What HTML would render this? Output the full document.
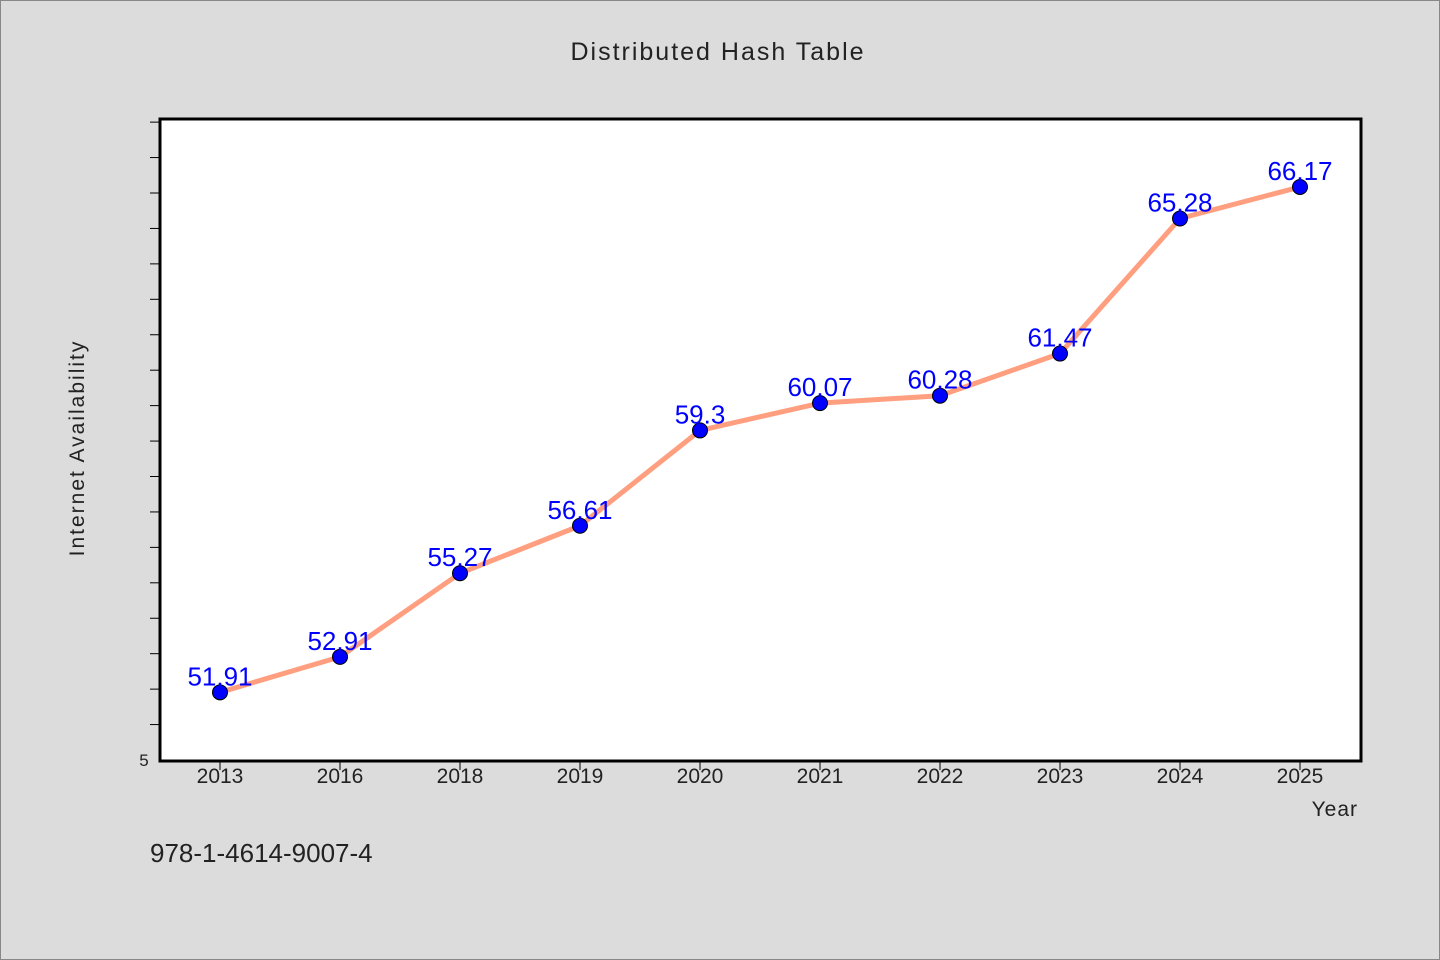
<!DOCTYPE html>
<html><head><meta charset="utf-8"><style>
html,body{margin:0;padding:0;background:#dcdcdc;}
svg{display:block;font-family:"WenQuanYi Zen Hei","Liberation Sans",sans-serif;}
</style></head><body>
<svg id="chart" width="1440" height="960" viewBox="0 0 1440 960">
<rect x="0.5" y="0.5" width="1439" height="959" fill="#dcdcdc" stroke="#888"/>
<text x="718" y="60" text-anchor="middle" font-size="25" letter-spacing="2" fill="#222">Distributed Hash Table</text>
<rect x="160" y="120" width="1200" height="640" fill="#fff"/>
<g id="ticks"></g>
<g id="series"></g>
<path d="M160,119 V761 H1361 V119 Z" fill="none" stroke="#000" stroke-width="3"/>
<text x="144" y="766" text-anchor="middle" font-size="17" fill="#222">5</text>
<text transform="translate(84,448) rotate(-90)" text-anchor="middle" font-size="21" letter-spacing="2" fill="#222">Internet Availability</text>
<text x="1358" y="816" text-anchor="end" font-size="21" letter-spacing="1" fill="#222">Year</text>
<text x="150" y="862" font-size="26" fill="#222">978-1-4614-9007-4</text>
</svg>
<script>
const categories=["2013","2016","2018","2019","2020","2021","2022","2023","2024","2025"];
const values=[51.91,52.91,55.27,56.61,59.3,60.07,60.28,61.47,65.28,66.17];
const labels=["51.91","52.91","55.27","56.61","59.3","60.07","60.28","61.47","65.28","66.17"];
const yMin=50,yMax=68.06;
const NS="http://www.w3.org/2000/svg";
function xs(i){return 220+i*120;}
function ys(v){return 760-(v-yMin)/(yMax-yMin)*640;}
const tg=document.getElementById('ticks'),sg=document.getElementById('series');
function mk(t,a,p){const e=document.createElementNS(NS,t);for(const k in a)e.setAttribute(k,a[k]);p.appendChild(e);return e;}
for(let v=51;v<=68;v++){
 const l=mk('line',{x1:150,x2:160,y1:ys(v),y2:ys(v),stroke:'#000','stroke-width':1},tg);
 
 
}
categories.forEach((c,i)=>{
 const l=mk('line',{x1:xs(i),x2:xs(i),y1:760,y2:770,stroke:'#000','stroke-width':1},tg);
 
 
 const t=mk('text',{x:xs(i),y:783,'text-anchor':'middle','font-size':21,fill:'#222'},tg);
 t.textContent=c;
 
 
});
const pl=mk('polyline',{points:values.map((v,i)=>xs(i)+','+ys(v)).join(' '),fill:'none',stroke:'#ff9f7f','stroke-width':5,'stroke-linejoin':'round'},sg);


values.forEach((v,i)=>{
 const c=mk('circle',{cx:xs(i),cy:ys(v),r:7.5,fill:'#0000ff',stroke:'#000','stroke-width':1},sg);
 
 
 const t=mk('text',{x:xs(i),y:ys(v)-7,'text-anchor':'middle','font-size':26,fill:'#0000ff'},sg);
 t.textContent=labels[i];
 
 
});
</script>
</body></html>
